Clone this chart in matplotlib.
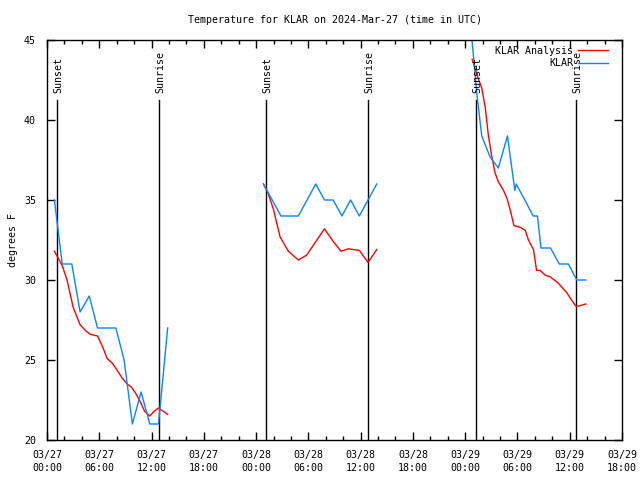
import matplotlib
matplotlib.use("Agg")
import matplotlib.pyplot as plt
import numpy as np

plt.rcParams['font.family'] = ['DejaVu Sans Mono']
plt.rcParams['font.size'] = 7.2

# hours since 2024-03-27 00:00 UTC
ana_h = [0.85, 1.75, 2.3, 3.0, 3.8, 4.5, 5.0, 5.8, 6.4, 6.9, 7.5, 8.0, 8.6, 9.2, 9.7,
         10.2, 10.7, 11.2, 11.8, 12.3, 12.8, 13.85,
         None,
         24.85, 25.4, 26.0, 26.75, 27.7, 28.85, 29.8, 30.85, 31.85, 32.8, 33.75, 34.6,
         35.85, 36.85, 37.85,
         None,
         48.8, 49.5, 49.9, 50.3, 50.67, 51.06, 51.43, 51.8, 52.4, 52.8, 53.16, 53.6,
         54.3, 54.9, 55.26, 55.84, 56.2, 56.6, 57.2, 57.75, 58.7, 59.67, 60.2, 60.75,
         61.2, 61.85]
ana_t = [31.8, 30.9, 30.0, 28.3, 27.2, 26.8, 26.6, 26.5, 25.8, 25.1, 24.8, 24.4, 23.9, 23.5, 23.3,
         22.9, 22.4, 21.8, 21.5, 21.8, 22.0, 21.6,
         None,
         36.0, 35.4, 34.4, 32.7, 31.8, 31.25, 31.55, 32.4, 33.2, 32.45, 31.8, 31.95,
         31.85, 31.1, 31.9,
         None,
         43.8, 42.6, 42.0, 40.8, 39.0, 37.7, 36.7, 36.15, 35.6, 35.1, 34.4, 33.4,
         33.3, 33.1, 32.5, 31.9, 30.6, 30.6, 30.3, 30.2, 29.8, 29.2, 28.75, 28.35,
         28.4, 28.5]

obs_h = [0.85, 1.75, 2.85, 3.8, 4.85, 5.8, 6.85, 7.9, 8.85, 9.8, 10.8, 11.8, 12.8, 13.85,
         None,
         24.85, 25.85, 26.85, 27.85, 28.85, 29.85, 30.85, 31.85, 32.85, 33.85, 34.85,
         35.85, 36.85, 37.85,
         None,
         48.7, 49.33, 49.9, 50.85, 51.8, 52.85, 53.6, 53.7, 53.85, 54.85, 55.8, 56.3,
         56.7, 57.8, 58.8, 59.85, 60.8, 61.85]
obs_t = [35, 31, 31, 28, 29, 27, 27, 27, 25, 21, 23, 21, 21, 27,
         None,
         36, 35, 34, 34, 34, 35, 36, 35, 35, 34, 35, 34, 35, 36,
         None,
         45.5, 41.7, 39, 37.7, 37, 39, 36, 35.6, 36, 35, 34, 34,
         32, 32, 31, 31, 30, 30]

sun_h = [1.18, 12.86, 25.14, 36.9, 49.25, 60.77]
sun_lbl = ["Sunset", "Sunrise", "Sunset", "Sunrise", "Sunset", "Sunrise"]

tick_h = [0, 6, 12, 18, 24, 30, 36, 42, 48, 54, 60, 66]
tick_lbl = ["03/27\n00:00", "03/27\n06:00", "03/27\n12:00", "03/27\n18:00",
            "03/28\n00:00", "03/28\n06:00", "03/28\n12:00", "03/28\n18:00",
            "03/29\n00:00", "03/29\n06:00", "03/29\n12:00", "03/29\n18:00"]


def arr(v):
    return np.array([np.nan if x is None else x for x in v], dtype=float)


fig = plt.figure(figsize=(6.4, 4.8), dpi=100)
ax = fig.add_axes([47/640, 40/480, 575/640, 400/480])

for h, lb in zip(sun_h, sun_lbl):
    ax.plot([h, h], [20, 41.25], color='black', lw=1)
    ax.text(h + 0.1, 41.7, lb, rotation=90, ha='center', va='bottom')

ax.plot(arr(ana_h), arr(ana_t), color='#ff0000', lw=1, label='KLAR Analysis')
ax.plot(arr(obs_h), arr(obs_t), color='#0a84ff', lw=1, label='KLAR')

ax.set_xlim(0, 66)
ax.set_ylim(20, 45)
ax.set_xticks(tick_h)
ax.set_xticklabels(tick_lbl, linespacing=1.4)
ax.set_xticks(np.arange(0, 67, 2), minor=True)
ax.set_yticks([20, 25, 30, 35, 40, 45])
ax.tick_params(which='both', direction='in', top=True, right=True, width=1)
ax.tick_params(which='major', length=6)
ax.tick_params(axis='x', which='major', pad=7)
ax.tick_params(axis='y', which='major', pad=8)
ax.tick_params(which='minor', length=3)
for s in ax.spines.values():
    s.set_linewidth(1)

ax.set_ylabel('degrees F', labelpad=4)
ax.set_title('Temperature for KLAR on 2024-Mar-27 (time in UTC)', fontsize=7.2, pad=12)

ax.legend(loc='upper right', bbox_to_anchor=(0.986, 1.0), frameon=False,
          markerfirst=False, handlelength=3, handletextpad=0.5,
          borderaxespad=0.2, labelspacing=0.25)

fig.savefig('out.png', dpi=100)
